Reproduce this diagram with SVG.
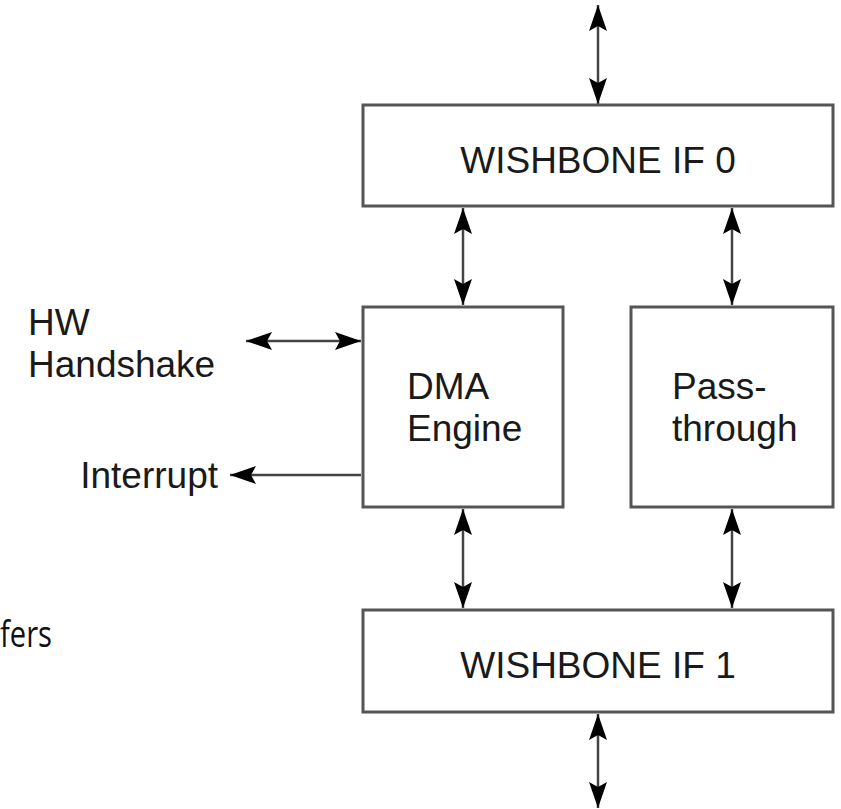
<svg xmlns="http://www.w3.org/2000/svg" width="841" height="809" viewBox="0 0 841 809">
<defs>
<style>
.box{fill:#fff;stroke:#555;stroke-width:3}
.t{font-family:"Liberation Sans",Arial,sans-serif;font-size:37px;fill:#1a1a1a}
.c{fill:none;stroke:#444;stroke-width:2.5}
.f{font-family:"Open Sans","Liberation Sans",sans-serif;font-size:36px;fill:#111}
</style>
<marker id="a" viewBox="0 0 26 18" refX="26" refY="9" markerWidth="26" markerHeight="18" markerUnits="userSpaceOnUse" orient="auto-start-reverse">
<path d="M0,0 L26,9 L0,18 L5,9 Z" fill="#000"/>
</marker>
</defs>
<rect width="841" height="809" fill="#fff"/>
<g id="connectors">
<line class="c" x1="598" y1="5" x2="598" y2="104" marker-start="url(#a)" marker-end="url(#a)"/>
<line class="c" x1="463" y1="208" x2="463" y2="305" marker-start="url(#a)" marker-end="url(#a)"/>
<line class="c" x1="732" y1="208" x2="732" y2="305" marker-start="url(#a)" marker-end="url(#a)"/>
<line class="c" x1="463" y1="509" x2="463" y2="608" marker-start="url(#a)" marker-end="url(#a)"/>
<line class="c" x1="732" y1="509" x2="732" y2="608" marker-start="url(#a)" marker-end="url(#a)"/>
<line class="c" x1="598" y1="714" x2="598" y2="808" marker-start="url(#a)" marker-end="url(#a)"/>
<line class="c" x1="246" y1="341" x2="361" y2="341" marker-start="url(#a)" marker-end="url(#a)"/>
<line class="c" x1="361" y1="475" x2="230" y2="475" marker-end="url(#a)"/>
</g>
<g id="wb0">
<rect class="box" x="363" y="105" width="470" height="101"/>
<text class="t" x="598" y="173" text-anchor="middle">WISHBONE IF 0</text>
</g>
<g id="dma">
<rect class="box" x="363" y="307" width="200" height="200"/>
<text class="t" x="407" y="399">DMA</text>
<text class="t" x="407" y="441">Engine</text>
</g>
<g id="pass">
<rect class="box" x="631" y="307" width="202" height="200"/>
<text class="t" x="672" y="399">Pass-</text>
<text class="t" x="672" y="441">through</text>
</g>
<g id="wb1">
<rect class="box" x="363" y="610" width="470" height="102"/>
<text class="t" x="598" y="678" text-anchor="middle">WISHBONE IF 1</text>
</g>
<g id="hw">
<text class="t" x="28" y="335">HW</text>
<text class="t" x="28" y="377">Handshake</text>
</g>
<g id="irq">
<text class="t" x="218" y="488" text-anchor="end">Interrupt</text>
</g>
<text class="f" x="0" y="647" textLength="52" lengthAdjust="spacingAndGlyphs">fers</text>
</svg>
